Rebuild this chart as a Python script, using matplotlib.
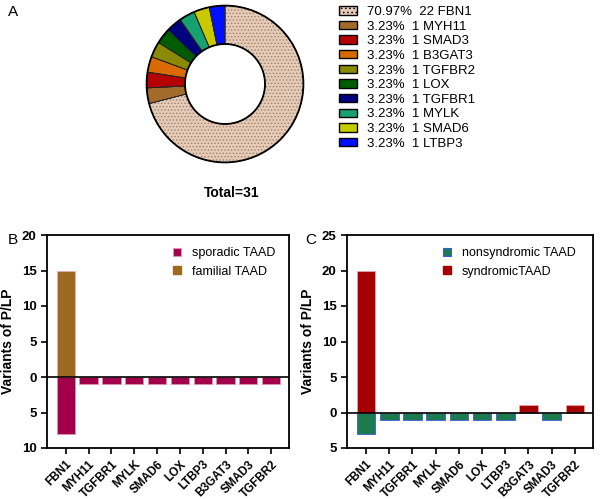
import numpy as np
import matplotlib
matplotlib.use('Agg')
import matplotlib.pyplot as plt
from matplotlib.lines import Line2D
from matplotlib.patches import Patch
from matplotlib.ticker import FuncFormatter

plt.rcParams['font.family'] = ['Liberation Sans', 'DejaVu Sans']
plt.rcParams['hatch.linewidth'] = 0.6

# --- panel A: donut ---
pie_genes = ['FBN1', 'MYH11', 'SMAD3', 'B3GAT3', 'TGFBR2', 'LOX', 'TGFBR1', 'MYLK', 'SMAD6', 'LTBP3']
pie_counts = [22, 1, 1, 1, 1, 1, 1, 1, 1, 1]
pie_colors = ['#e6cbb6', '#a36b2b', '#b50000', '#d96a00', '#8a8a00', '#005c00',
              '#00007f', '#17a070', '#c9c900', '#0010ff']

# --- panels B and C: bars ---
genes = ['FBN1', 'MYH11', 'TGFBR1', 'MYLK', 'SMAD6', 'LOX', 'LTBP3', 'B3GAT3', 'SMAD3', 'TGFBR2']
sporadic = [8, 1, 1, 1, 1, 1, 1, 1, 1, 1]
familial = [15, 0, 0, 0, 0, 0, 0, 0, 0, 0]
nonsyndromic = [3, 1, 1, 1, 1, 1, 1, 0, 1, 0]
syndromic = [20, 0, 0, 0, 0, 0, 0, 1, 0, 1]

W, H = 600, 499
fig = plt.figure(figsize=(6, 4.99), dpi=100)


def px_axes(x0, y0, x1, y1):
    # pixel box (top-left origin) -> figure axes
    return fig.add_axes([x0 / W, 1 - y1 / H, (x1 - x0) / W, (y1 - y0) / H])


# donut
axp = px_axes(145, 4, 305, 164)
total = sum(pie_counts)
wedges, _ = axp.pie(pie_counts, colors=pie_colors, startangle=90, counterclock=False,
                    radius=0.98, wedgeprops=dict(width=0.48, edgecolor='#333333', linewidth=0.5))
wedges[0].set_hatch('.....')
wedges[0].set_edgecolor('#9a8070')
# outlines on top
axp.pie(pie_counts, colors=['none'] * len(pie_counts), startangle=90, counterclock=False,
        radius=0.98, wedgeprops=dict(width=0.48, edgecolor='#222222', linewidth=0.5))
for r in [0.98, 0.50]:
    axp.add_patch(plt.Circle((0, 0), r, fill=False, lw=1.3, color='black'))
axp.set_xlim(-1, 1)
axp.set_ylim(-1, 1)
axp.set_aspect('equal')

labels = [f'{c / total * 100:.2f}%  {c} {g}' for c, g in zip(pie_counts, pie_genes)]
handles = []
for i, col in enumerate(pie_colors):
    handles.append(Patch(facecolor=col, edgecolor='black', linewidth=1.0,
                         hatch='....' if i == 0 else None))
fig.legend(handles, labels, loc='upper left', bbox_to_anchor=(339 / W, 1 - 6 / H),
           frameon=False, fontsize=9.5, handlelength=1.4, handleheight=0.6,
           handletextpad=0.7, labelspacing=0.2, borderpad=0, borderaxespad=0)

fig.text(232 / W, 1 - 193 / H, 'Total=31', ha='center', va='center',
         fontsize=10, fontweight='bold')

fig.text(8 / W, 1 - 12 / H, 'A', fontsize=11, va='center')
fig.text(8 / W, 1 - 240 / H, 'B', fontsize=11, va='center')
fig.text(305 / W, 1 - 240 / H, 'C', fontsize=11, va='center')


def bar_panel(ax, up, down, up_col, down_col, down_edge, up_lab, down_lab, ylo, yhi, leg_x):
    x = np.arange(len(genes))
    ax.bar(x, [-v for v in down], width=0.8, color=down_col, edgecolor=down_edge, linewidth=0.6)
    ax.bar(x, up, width=0.8, color=up_col, edgecolor='#f0b0b0', linewidth=0.4)
    ax.axhline(0, color='black', lw=1.2)
    ax.set_xlim(-0.82, 9.78)
    ax.set_ylim(ylo, yhi)
    ax.set_yticks(np.arange(ylo, yhi + 1, 5))
    ax.yaxis.set_major_formatter(FuncFormatter(lambda v, p: f'{abs(int(v))}'))
    ax.set_xticks(x)
    ax.set_xticklabels(genes, rotation=45, ha='right', rotation_mode='anchor',
                       fontsize=8.5, fontweight='bold')
    for t in ax.get_yticklabels():
        t.set_fontweight('bold')
        t.set_fontsize(9.5)
    ax.tick_params(width=1.2, length=4)
    for s in ax.spines.values():
        s.set_linewidth(1.3)
    ax.set_ylabel('Variants of P/LP', fontsize=10, fontweight='bold', labelpad=5)
    h = [Line2D([], [], ls='none', marker='s', ms=6, mfc=down_col, mec=down_edge, mew=0.8),
         Line2D([], [], ls='none', marker='s', ms=6, mfc=up_col, mec=up_col)]
    ax.legend(h, [down_lab, up_lab], loc='upper left', bbox_to_anchor=(leg_x, 0.944),
              frameon=False, fontsize=9, handlelength=0.8, handletextpad=0.8,
              labelspacing=0.55, borderpad=0, borderaxespad=0)


axb = px_axes(47, 235, 289, 448)
bar_panel(axb, familial, sporadic, '#9c6a1e', '#a3004c', '#e090b0',
          'familial TAAD', 'sporadic TAAD', -10, 20, 0.517)

axc = px_axes(347, 235, 593, 448)
bar_panel(axc, syndromic, nonsyndromic, '#a50000', '#1b7a4e', '#3a5ae0',
          'syndromicTAAD', 'nonsyndromic TAAD', -5, 25, 0.385)

fig.savefig('out.png', dpi=100)
